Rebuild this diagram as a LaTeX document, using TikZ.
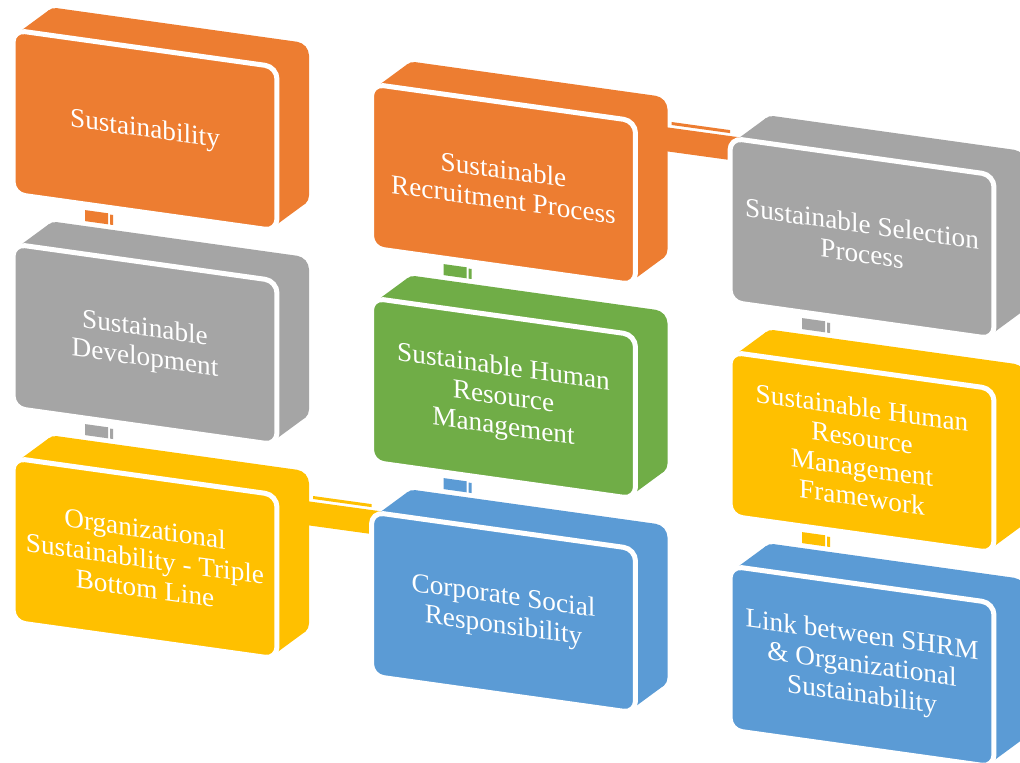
\documentclass[tikz,border=0pt]{standalone}
\usepackage{fontspec}
\setmainfont{Liberation Serif}
\usetikzlibrary{backgrounds,calc}

\definecolor{shrmorange}{HTML}{ED7D31}
\definecolor{shrmgray}{HTML}{A5A5A5}
\definecolor{shrmyellow}{HTML}{FFC000}
\definecolor{shrmblue}{HTML}{5B9BD5}
\definecolor{shrmgreen}{HTML}{70AD47}

% name, colour, x, y, text
\newcommand{\shrmbox}[5]{%
    \begin{scope}[shift={(#3,#4)}, yslant=-0.14]
        \fill[#2, rounded corners=0.24cm] (32,-28) rectangle (296,136);
        \fill[#2] (3.5,3.5) -- (35.5,-24.5) -- (292.5,-24.5) -- (292.5,132.5)
            -- (260.5,160.5) -- (3.5,160.5) -- cycle;
        \node[face, fill=#2] (#1) at (132,82) {#5};
        \coordinate (#1-b) at (72,170);
        \coordinate (#1-t) at (95,-33);
        \coordinate (#1-r1) at (290,2);
        \coordinate (#1-r2) at (290,26);
        \coordinate (#1-l1) at (10,-2);
        \coordinate (#1-l2) at (10,22);
    \end{scope}}

% upper, lower, colour
\newcommand{\downbar}[3]{%
    \fill[#3] (#1-b) -- ++(23,3.2) -- (#2-t) -- ++(-23,-3.2) -- cycle;
    \fill[#3] ($(#1-b)+(25,4.5)$) -- ++(3,0.4) -- ($(#2-t)+(5,0.7)$) -- ++(-3,-0.4) -- cycle;}

% left, right, colour
\newcommand{\sidebar}[3]{%
    \fill[#3] (#1-r1) -- (#2-l1) -- (#2-l2) -- (#1-r2) -- cycle;
    \fill[#3] ($(#1-r1)+(10,-4.6)$) -- ($(#2-l1)+(-10,-7.3)$) -- ++(0,3)
        -- ($(#1-r1)+(10,-1.6)$) -- cycle;}

\begin{document}
\begin{tikzpicture}
[
    x=0.02cm, y=-0.02cm,
    face/.style={draw=white, line width=0.1cm, rounded corners=0.24cm,
        minimum width=5.28cm, minimum height=3.28cm, inner sep=0pt,
        transform shape, text=white, align=center,
        font=\fontsize{15.5}{17}\selectfont},
]
    \useasboundingbox (0,0) rectangle (1020,763);

    \shrmbox{sust}{shrmorange}{13}{30}{Sustainability}
    \shrmbox{dev}{shrmgray}{13}{244}{Sustainable\\Development}
    \shrmbox{org}{shrmyellow}{13}{458}{Organizational\\Sustainability - Triple\\Bottom Line}
    \shrmbox{recr}{shrmorange}{371.5}{84}{Sustainable\\Recruitment Process}
    \shrmbox{shrm}{shrmgreen}{371.5}{298}{Sustainable Human\\Resource\\Management}
    \shrmbox{csr}{shrmblue}{371.5}{512}{Corporate Social\\Responsibility}
    \shrmbox{sel}{shrmgray}{730}{138}{Sustainable Selection\\Process}
    \shrmbox{frame}{shrmyellow}{730}{352}{Sustainable Human\\Resource\\Management\\Framework}
    \shrmbox{link}{shrmblue}{730}{566}{Link between SHRM\\\& Organizational\\Sustainability}

    % connectors behind the boxes
    \begin{scope}[on background layer]
        \fill[white] (0,0) rectangle (1020,763);
        \downbar{sust}{dev}{shrmorange}
        \downbar{dev}{org}{shrmgray}
        \sidebar{org}{csr}{shrmyellow}
        \downbar{shrm}{csr}{shrmblue}
        \downbar{recr}{shrm}{shrmgreen}
        \sidebar{recr}{sel}{shrmorange}
        \downbar{sel}{frame}{shrmgray}
        \downbar{frame}{link}{shrmyellow}
    \end{scope}
\end{tikzpicture}
\end{document}
